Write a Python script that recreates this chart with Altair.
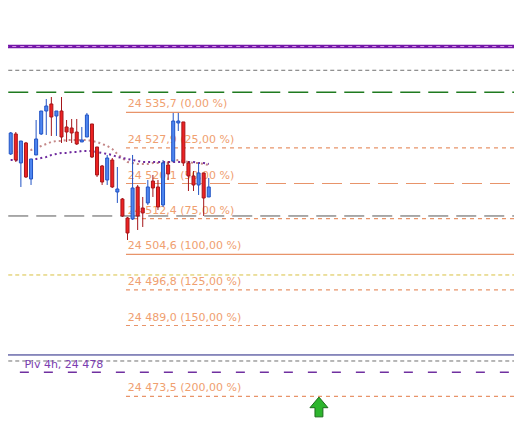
import altair as alt
import pandas as pd

# ---------------- data ----------------
bar_index = list(range(41))
opens = [24523.06, 24526.57, 24530.95, 24524.60, 24528.98, 24521.09, 24526.35, 24530.95, 24535.98, 24537.52,
         24534.89, 24535.98, 24532.48, 24532.26, 24531.38, 24529.20, 24530.29, 24533.14, 24528.10, 24523.94,
         24520.87, 24525.25, 24518.24, 24516.71, 24512.55, 24512.33, 24519.34, 24514.74, 24515.84, 24520.65,
         24519.34, 24515.40, 24524.16, 24525.03, 24533.36, 24533.58, 24524.60, 24521.75, 24519.78, 24522.41,
         24517.15]
closes = [24526.13, 24531.17, 24525.25, 24529.41, 24521.53, 24525.47, 24529.85, 24535.98, 24537.08, 24534.67,
          24535.98, 24530.29, 24531.38, 24531.17, 24528.76, 24529.63, 24535.11, 24525.91, 24521.97, 24520.43,
          24525.69, 24519.34, 24518.90, 24512.99, 24509.27, 24519.12, 24512.99, 24513.65, 24519.34, 24519.12,
          24514.96, 24524.60, 24522.19, 24533.79, 24533.79, 24524.60, 24521.75, 24519.78, 24522.41, 24516.93,
          24519.34]
highs = [24527.44, 24531.38, 24531.38, 24529.41, 24529.20, 24525.47, 24534.01, 24535.98, 24538.61, 24539.05,
         24535.98, 24539.05, 24534.01, 24534.23, 24534.23, 24532.48, 24535.55, 24533.14, 24528.10, 24524.16,
         24526.35, 24525.69, 24523.72, 24516.93, 24512.77, 24526.35, 24519.78, 24517.15, 24520.87, 24521.97,
         24520.87, 24525.25, 24525.03, 24535.55, 24535.55, 24533.58, 24525.03, 24522.84, 24524.60, 24522.41,
         24521.31]
lows = [24522.62, 24526.35, 24524.81, 24519.34, 24521.31, 24519.78, 24526.35, 24530.73, 24530.73, 24530.51,
        24530.51, 24528.98, 24529.20, 24528.98, 24528.54, 24529.20, 24530.29, 24525.69, 24521.53, 24519.78,
        24519.78, 24519.12, 24515.84, 24512.77, 24507.73, 24512.11, 24509.92, 24510.58, 24515.40, 24517.15,
        24514.30, 24514.96, 24520.87, 24524.81, 24531.60, 24523.94, 24518.46, 24518.46, 24517.59, 24512.99,
        24517.15]
ma_fast = [24527.22, 24527.22, 24527.00, 24527.00, 24527.22, 24527.44, 24527.88, 24528.32, 24528.76, 24529.20,
           24529.41, 24529.41, 24529.63, 24529.63, 24529.63, 24529.63, 24529.63, 24529.41, 24529.20, 24528.76,
           24528.32, 24527.66, 24526.57, 24525.69, 24524.81, 24524.60, 24524.38, 24524.38, 24524.38, 24524.60,
           24524.60, 24524.60, 24524.60, 24525.03, 24525.25, 24525.03, 24524.81, 24524.60, 24524.60, 24524.38,
           24524.16]
ma_slow = [24525.25, 24525.25, 24525.25, 24525.03, 24525.03, 24525.25, 24525.47, 24525.69, 24525.91, 24526.35,
           24526.57, 24526.79, 24526.79, 24527.00, 24527.00, 24527.22, 24527.22, 24527.22, 24527.00, 24526.79,
           24526.57, 24526.35, 24525.91, 24525.69, 24525.47, 24525.25, 24525.03, 24524.81, 24524.81, 24524.81,
           24524.81, 24524.81, 24524.81, 24524.81, 24524.81, 24524.81, 24524.81, 24524.81, 24524.60, 24524.60,
           24524.38]

fib_prices = [24535.7, 24527.9, 24520.1, 24512.4, 24504.6, 24496.8, 24489.0, 24473.5]
fib_labels = ["24 535,7 (0,00 %)", "24 527,9 (25,00 %)", "24 520,1 (50,00 %)", "24 512,4 (75,00 %)",
              "24 504,6 (100,00 %)", "24 496,8 (125,00 %)", "24 489,0 (150,00 %)", "24 473,5 (200,00 %)"]
fib_start_bar = 23.7

level_prices = [24559.75, 24550.10, 24544.90, 24540.08, 24512.99, 24500.07, 24482.55, 24481.23]
pivot_price = 24478.76
pivot_label = "Piv 4h, 24 478"
pivot_start_bar = 2.8
pivot_label_bar = 3.7

arrow_bar = 61.7
arrow_price = 24471.16

# ---------------- styles ----------------
FIB_COLOR = "#E8946A"
FIB_TEXT = "#F0A070"
fib_dash = [None, [4, 4], [20, 8], [4, 4], None, [4, 4], [4, 4], [4, 4]]
level_styles = [
    ("#2E8B2E", None, 1.5),
    ("#7417A8", None, 3.5),
    ("#707070", [4, 3], 1),
    ("#1F7A1F", [20, 8], 1.5),
    ("#555555", [20, 8], 1),
    ("#D8C040", [4, 3], 1),
    ("#202080", None, 1),
    ("#707070", [4, 3], 1),
]

xs = alt.Scale(domain=[1.448, 99.13], nice=False, zero=False)
ys = alt.Scale(domain=[24465.24, 24558.54], nice=False, zero=False)
X_LEFT, X_RIGHT = -5, 120


def hline(price, x0, color, dash, width):
    df = pd.DataFrame({"x0": [x0], "x1": [X_RIGHT], "p": [price]})
    kw = dict(color=color, strokeWidth=width, clip=True)
    if dash:
        kw["strokeDash"] = dash
    return alt.Chart(df).mark_rule(**kw).encode(
        x=alt.X("x0:Q", scale=xs, axis=None),
        x2="x1:Q",
        y=alt.Y("p:Q", scale=ys, axis=None),
    )


layers = []
for price, (c, d, w) in zip(level_prices, level_styles):
    layers.append(hline(price, X_LEFT, c, d, w))
# light dashes inside the thick purple line
layers.append(hline(level_prices[1], X_LEFT, "#D898E8", [4, 4], 1))
layers.append(hline(pivot_price, pivot_start_bar, "#7030A0", [9, 15], 1.5))
for price, d in zip(fib_prices, fib_dash):
    layers.append(hline(price, fib_start_bar, FIB_COLOR, d, 1.2))

fib_df = pd.DataFrame({"x": [fib_start_bar + 0.35] * len(fib_prices), "p": fib_prices, "t": fib_labels})
layers.append(
    alt.Chart(fib_df).mark_text(align="left", baseline="alphabetic", dy=-5, font="DejaVu Sans",
                                fontSize=11, color=FIB_TEXT).encode(
        x=alt.X("x:Q", scale=xs, axis=None), y=alt.Y("p:Q", scale=ys, axis=None), text="t:N")
)
piv_df = pd.DataFrame({"x": [pivot_label_bar], "p": [pivot_price], "t": [pivot_label]})
layers.append(
    alt.Chart(piv_df).mark_text(align="left", baseline="alphabetic", dy=-4, font="DejaVu Sans",
                                fontSize=11, color="#7A3DB0").encode(
        x=alt.X("x:Q", scale=xs, axis=None), y=alt.Y("p:Q", scale=ys, axis=None), text="t:N")
)

ma_df = pd.DataFrame({"i": bar_index, "fast": ma_fast, "slow": ma_slow})
layers.append(
    alt.Chart(ma_df).mark_line(color="#C48888", strokeWidth=2, strokeDash=[2, 3], clip=True).encode(
        x=alt.X("i:Q", scale=xs, axis=None), y=alt.Y("fast:Q", scale=ys, axis=None))
)
layers.append(
    alt.Chart(ma_df).mark_line(color="#6E2A9E", strokeWidth=2, strokeDash=[2, 3], clip=True).encode(
        x=alt.X("i:Q", scale=xs, axis=None), y=alt.Y("slow:Q", scale=ys, axis=None))
)

candles = pd.DataFrame({"i": bar_index, "o": opens, "h": highs, "l": lows, "c": closes})
up_cond = "datum.c >= datum.o"
wick = alt.Chart(candles).mark_rule(strokeWidth=1, clip=True).encode(
    x=alt.X("i:Q", scale=xs, axis=None),
    y=alt.Y("l:Q", scale=ys, axis=None),
    y2="h:Q",
    color=alt.condition(up_cond, alt.value("#2153C4"), alt.value("#A5161A")),
)
body = alt.Chart(candles).mark_bar(size=3, strokeWidth=1, clip=True).encode(
    x=alt.X("i:Q", scale=xs, axis=None),
    y=alt.Y("o:Q", scale=ys, axis=None),
    y2="c:Q",
    fill=alt.condition(up_cond, alt.value("#4D86F0"), alt.value("#EE2222")),
    stroke=alt.condition(up_cond, alt.value("#2153C4"), alt.value("#A5161A")),
)
layers += [wick, body]

arrow_df = pd.DataFrame({"x": [arrow_bar], "p": [arrow_price]})
arrow_path = "M0,-1.1 L1,0.08 L0.44,0.08 L0.44,1.1 L-0.44,1.1 L-0.44,0.08 L-1,0.08 Z"
layers.append(
    alt.Chart(arrow_df).mark_point(shape=arrow_path, size=324, filled=True, fill="#2DB52D",
                                   stroke="#1C6B1C", strokeWidth=1, opacity=1).encode(
        x=alt.X("x:Q", scale=xs, axis=None), y=alt.Y("p:Q", scale=ys, axis=None))
)

chart = alt.layer(*layers).properties(
    width=506, height=426, padding=0, autosize=alt.AutoSizeParams(type="none"),
    background="white",
).configure_view(stroke=None)

chart.save("out.html", embed_options={"renderer": "svg", "actions": False})
